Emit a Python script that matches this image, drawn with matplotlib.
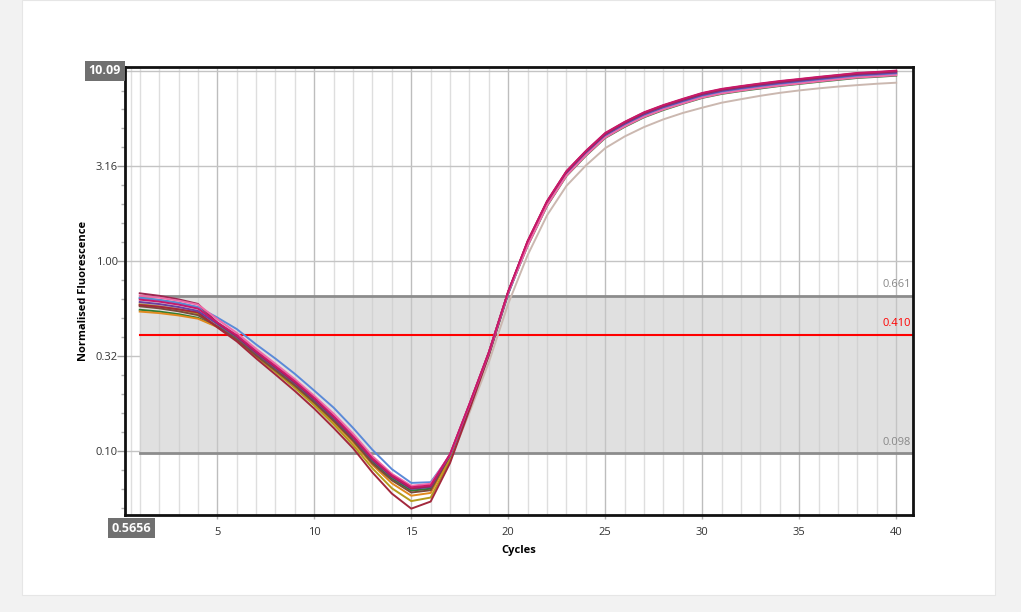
import matplotlib.pyplot as plt
import matplotlib.transforms as mtransforms
from matplotlib.patches import Rectangle
import numpy as np

plt.rcParams['font.family'] = ['Open Sans', 'DejaVu Sans']

cycles = list(range(1, 41))

# normalised fluorescence per sample
gray_s = [0.600, 0.585, 0.565, 0.540, 0.462, 0.395, 0.325, 0.271, 0.225, 0.184,
          0.147, 0.116, 0.0885, 0.0720, 0.0625, 0.0640, 0.090, 0.160, 0.295, 0.600,
          1.08, 1.75, 2.50, 3.20, 3.95, 4.55, 5.10, 5.60, 6.05, 6.45,
          6.85, 7.15, 7.45, 7.72, 7.95, 8.15, 8.33, 8.48, 8.62, 8.73]
green_s = [0.557, 0.545, 0.528, 0.505, 0.455, 0.393, 0.323, 0.270, 0.224, 0.183,
           0.147, 0.116, 0.0882, 0.0719, 0.0622, 0.0637, 0.0955, 0.175, 0.328, 0.685,
           1.21, 1.96, 2.82, 3.60, 4.47, 5.11, 5.74, 6.27, 6.76, 7.26,
           7.62, 7.89, 8.14, 8.39, 8.60, 8.82, 9.03, 9.25, 9.37, 9.51]
orange_s = [0.545, 0.535, 0.520, 0.500, 0.452, 0.388, 0.319, 0.265, 0.220, 0.179,
            0.143, 0.112, 0.0850, 0.0680, 0.0585, 0.0605, 0.093, 0.173, 0.328, 0.688,
            1.23, 1.99, 2.86, 3.66, 4.54, 5.19, 5.83, 6.37, 6.86, 7.37,
            7.74, 8.02, 8.27, 8.52, 8.73, 8.96, 9.17, 9.40, 9.52, 9.66]
olive_s = [0.594, 0.579, 0.559, 0.533, 0.455, 0.387, 0.316, 0.262, 0.216, 0.175,
           0.139, 0.108, 0.0815, 0.0640, 0.0548, 0.0572, 0.090, 0.170, 0.322, 0.680,
           1.24, 2.02, 2.91, 3.71, 4.61, 5.27, 5.92, 6.47, 6.97, 7.48,
           7.86, 8.14, 8.40, 8.65, 8.87, 9.09, 9.31, 9.54, 9.66, 9.81]
teal_s = [0.643, 0.627, 0.605, 0.573, 0.474, 0.404, 0.333, 0.278, 0.231, 0.189,
          0.151, 0.119, 0.0905, 0.0738, 0.0640, 0.0655, 0.0950, 0.174, 0.327, 0.683,
          1.24, 2.01, 2.89, 3.69, 4.58, 5.25, 5.89, 6.44, 6.93, 7.44,
          7.82, 8.10, 8.36, 8.60, 8.82, 9.05, 9.27, 9.49, 9.61, 9.76]
blue_s = [0.643, 0.627, 0.605, 0.576, 0.507, 0.441, 0.366, 0.308, 0.256, 0.209,
          0.170, 0.133, 0.102, 0.0807, 0.0683, 0.0689, 0.095, 0.171, 0.323, 0.676,
          1.23, 2.00, 2.88, 3.67, 4.56, 5.22, 5.86, 6.40, 6.90, 7.41,
          7.78, 8.06, 8.31, 8.56, 8.78, 9.00, 9.22, 9.45, 9.56, 9.71]
brown_s = [0.581, 0.567, 0.547, 0.522, 0.455, 0.389, 0.320, 0.267, 0.222, 0.181,
           0.145, 0.114, 0.0865, 0.0705, 0.0608, 0.0625, 0.0955, 0.176, 0.331, 0.693,
           1.26, 2.05, 2.95, 3.77, 4.68, 5.35, 6.01, 6.57, 7.07, 7.60,
           7.98, 8.26, 8.52, 8.78, 9.00, 9.23, 9.45, 9.69, 9.81, 9.96]
darkred_s = [0.590, 0.578, 0.560, 0.540, 0.450, 0.380, 0.309, 0.254, 0.208, 0.168,
             0.133, 0.104, 0.0775, 0.0600, 0.0500, 0.0545, 0.0870, 0.166, 0.322, 0.685,
             1.28, 2.07, 2.98, 3.80, 4.72, 5.41, 6.07, 6.63, 7.14, 7.67,
             8.06, 8.34, 8.61, 8.86, 9.09, 9.32, 9.55, 9.78, 9.90, 10.05]
purple_s = [0.612, 0.597, 0.576, 0.549, 0.469, 0.401, 0.330, 0.275, 0.229, 0.187,
            0.150, 0.118, 0.090, 0.0734, 0.0635, 0.0650, 0.0959, 0.176, 0.330, 0.690,
            1.25, 2.03, 2.92, 3.73, 4.63, 5.30, 5.95, 6.50, 7.00, 7.52,
            7.90, 8.18, 8.44, 8.69, 8.91, 9.14, 9.36, 9.59, 9.71, 9.86]
crimson_s = [0.680, 0.660, 0.632, 0.598, 0.476, 0.405, 0.333, 0.278, 0.231, 0.189,
             0.152, 0.119, 0.0910, 0.0740, 0.0640, 0.0656, 0.0965, 0.177, 0.333, 0.695,
             1.27, 2.06, 2.96, 3.79, 4.70, 5.38, 6.04, 6.60, 7.11, 7.63,
             8.02, 8.30, 8.57, 8.82, 9.04, 9.28, 9.50, 9.73, 9.86, 10.01]
pink_s = [0.661, 0.645, 0.622, 0.593, 0.497, 0.421, 0.347, 0.289, 0.240, 0.196,
          0.158, 0.124, 0.0945, 0.0763, 0.0660, 0.0676, 0.0965, 0.177, 0.331, 0.688,
          1.21, 1.97, 2.83, 3.62, 4.49, 5.14, 5.77, 6.31, 6.79, 7.29,
          7.66, 7.93, 8.19, 8.43, 8.64, 8.87, 9.08, 9.30, 9.42, 9.56]
magenta_s = [0.630, 0.615, 0.593, 0.565, 0.478, 0.409, 0.337, 0.281, 0.234, 0.191,
             0.153, 0.120, 0.0918, 0.0749, 0.0648, 0.0663, 0.0969, 0.178, 0.333, 0.697,
             1.28, 2.08, 2.99, 3.82, 4.75, 5.43, 6.10, 6.66, 7.18, 7.71,
             8.10, 8.38, 8.65, 8.91, 9.13, 9.37, 9.59, 9.83, 9.95, 10.11]

samples = [gray_s, green_s, orange_s, olive_s, teal_s, blue_s, brown_s,
           darkred_s, purple_s, crimson_s, pink_s, magenta_s]
sample_colors = ['#cbb8b0', '#2e7d32', '#e08a1e', '#b59a1a', '#26a69a', '#5b8ad8',
                 '#7b4b3a', '#a3283c', '#6a3fa0', '#9c2750', '#f06aa8', '#c8186a']

thr_low = 0.098
thr_high = 0.661
thr_line = 0.410

y_ticks = [0.1, 10 ** -0.5, 1.0, 10 ** 0.5]
y_ticklabels = ['0.10', '0.32', '1.00', '3.16']
y_top = 10.09
x_min = 0.5656
x_ticks = [5, 10, 15, 20, 25, 30, 35, 40]

fig = plt.figure(figsize=(10.21, 6.12), dpi=100)
fig.patch.set_facecolor('#f2f2f2')
fig.patches.append(Rectangle((22 / 1021, 17 / 612), 973 / 1021, 1 - 17 / 612,
                             transform=fig.transFigure, facecolor='white',
                             edgecolor='#e6e6e6', lw=0.8, zorder=-10))

ax = fig.add_axes([0.1224, 0.1585, 0.7715, 0.7315])
ax.set_zorder(5)
ax.patch.set_alpha(0)
ax.set_yscale('log')
ax.set_xlim(0.24, 40.85)
ax.set_ylim(0.0463, 10.52)

# grid
for c in cycles:
    ax.axvline(c, color='#bdbdbd' if c % 5 == 0 else '#dedede', lw=1.0, zorder=1)
ax.axvline(x_min, color='#dedede', lw=1.0, zorder=1)
for yv in y_ticks + [y_top]:
    ax.axhline(yv, color='#c4c4c4', lw=1.0, zorder=1)

# threshold band
ax.fill_between([1, 40.85], thr_low, thr_high, color='#e0e0e0', zorder=1.5, lw=0)
for c in cycles:
    ax.plot([c, c], [thr_low, thr_high], color='#c4c4c4' if c % 5 == 0 else '#d2d2d2',
            lw=1.0, zorder=1.6)
ax.plot([1, 40.85], [thr_high, thr_high], color='#8c8c8c', lw=2, zorder=2)
ax.plot([1, 40.85], [thr_low, thr_low], color='#8c8c8c', lw=2, zorder=2)
ax.plot([1, 40.85], [thr_line, thr_line], color='#ff0000', lw=1.5, zorder=2)

for s, col in zip(samples, sample_colors):
    ax.plot(cycles, s, color=col, lw=1.4, zorder=3)

ax.text(40.75, thr_high * 1.07, '0.661', color='#888888', fontsize=8, ha='right', va='bottom')
ax.text(40.75, thr_line * 1.07, '0.410', color='#ff0000', fontsize=8, ha='right', va='bottom')
ax.text(40.75, thr_low * 1.07, '0.098', color='#888888', fontsize=8, ha='right', va='bottom')

# axes styling
for sp in ax.spines.values():
    sp.set_linewidth(2)
    sp.set_color('#111111')
ax.set_yticks(y_ticks)
ax.set_yticklabels(y_ticklabels)
minor = [10 ** (k / 10) for k in range(-13, 11) if k % 5 != 0]
ax.set_yticks(minor, minor=True)
ax.set_yticklabels([], minor=True)
ax.tick_params(axis='y', which='major', length=6, width=1, color='#9a9a9a',
               labelsize=8, labelcolor='#333333', pad=-1)
ax.tick_params(axis='y', which='minor', length=3, width=1, color='#b0b0b0')
ax.set_xticks(x_ticks)
ax.set_xticklabels([str(t) for t in x_ticks])
ax.tick_params(axis='x', which='major', length=3, width=1, color='#b0b0b0',
               labelsize=8, labelcolor='#333333', pad=6)
ax.xaxis.set_minor_locator(plt.NullLocator())

ax.set_xlabel('Cycles', fontsize=8, fontweight='bold', labelpad=5)
ax.set_ylabel('Normalised Fluorescence', fontsize=8, fontweight='bold', labelpad=5)

trans_y = mtransforms.blended_transform_factory(ax.transAxes, ax.transData)
ax.text(-0.005, y_top, '10.09', transform=trans_y, ha='right', va='center',
        fontsize=9, fontweight='bold', color='white',
        bbox=dict(boxstyle='square,pad=0.3', facecolor='#707070', edgecolor='none'))
trans_x = mtransforms.blended_transform_factory(ax.transData, ax.transAxes)
ax.text(x_min, -0.015, '0.5656', transform=trans_x, ha='center', va='top',
        fontsize=9, fontweight='bold', color='white',
        bbox=dict(boxstyle='square,pad=0.3', facecolor='#707070', edgecolor='none'))

fig.savefig('out.png', dpi=100, facecolor=fig.get_facecolor())
